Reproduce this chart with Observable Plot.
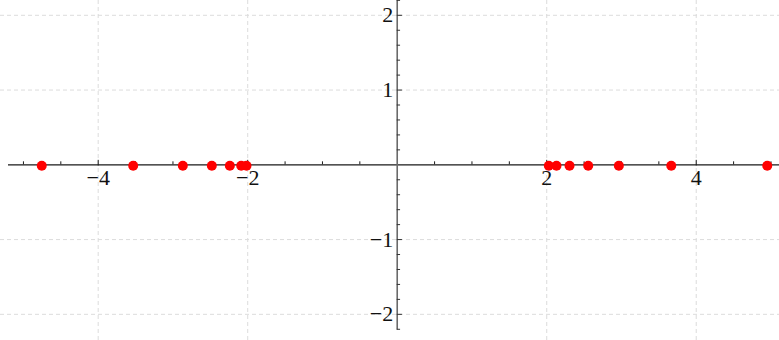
<!DOCTYPE html>
<html>
<head>
<meta charset="utf-8">
<script src="https://cdn.jsdelivr.net/npm/d3@7"></script>
<script src="https://cdn.jsdelivr.net/npm/@observablehq/plot@0.6"></script>
<style>
  html, body { margin: 0; padding: 0; background: #fff; }
  #chart svg { display: block; }
</style>
</head>
<body>
<div id="chart"></div>
<script>
// Point x-values (all on y = 0)
const pointsX = [-4.755, -3.532, -2.868, -2.480, -2.239, -2.087, -2.016,
                 2.028, 2.131, 2.305, 2.555, 2.965, 3.666, 4.950];
const pointsY = [0, 0, 0, 0, 0, 0, 0, 0, 0, 0, 0, 0, 0, 0];

// Axis ticks
const xMajorTicks = [-4, -2, 2, 4];
const xMinorTicks = [-5, -4.5, -3.5, -3, -2.5, -1.5, -1, -0.5, 0.5, 1, 1.5, 2.5, 3, 3.5, 4.5, 5];
const yMajorTicks = [-2, -1, 1, 2];
const yMinorTicks = [-2.2, -1.8, -1.6, -1.4, -1.2, -0.8, -0.6, -0.4, -0.2,
                     0.2, 0.4, 0.6, 0.8, 1.2, 1.4, 1.6, 1.8, 2.2];
const xLabels = ["\u22124", "\u22122", "2", "4"];
const yLabels = ["\u22122", "\u22121", "1", "2"];

const points = pointsX.map((x, i) => ({x, y: pointsY[i]}));

const chart = Plot.plot({
  width: 779,
  height: 340,
  margin: 0,
  x: {domain: [-5.307, 5.114], axis: null},
  y: {domain: [-2.350, 2.198], axis: null},
  marks: [
    // grid
    Plot.ruleX(xMajorTicks, {x: d => d, y1: -2.35, y2: 2.198, stroke: "#dcdcdc", strokeWidth: 1, strokeDasharray: "4,3"}),
    Plot.ruleY(yMajorTicks, {y: d => d, x1: -5.307, x2: 5.114, stroke: "#dcdcdc", strokeWidth: 1, strokeDasharray: "4,3"}),
    // axes lines
    Plot.ruleY([0], {x1: -5.2, x2: 5.114, stroke: "#1a1a1a", strokeWidth: 1.2}),
    Plot.ruleX([0], {y1: -2.21, y2: 2.198, stroke: "#6a6a6a", strokeWidth: 1.6}),
    // x ticks
    Plot.ruleX(xMinorTicks, {x: d => d, y1: 0, y2: 0.04, stroke: "#1a1a1a", strokeWidth: 1}),
    Plot.ruleX(xMajorTicks, {x: d => d, y1: -0.015, y2: 0.06, stroke: "#1a1a1a", strokeWidth: 1}),
    // y ticks
    Plot.ruleY(yMinorTicks, {y: d => d, x1: 0, x2: 0.045, stroke: "#333", strokeWidth: 1}),
    Plot.ruleY(yMajorTicks, {y: d => d, x1: 0, x2: 0.07, stroke: "#333", strokeWidth: 1}),
    // points
    Plot.dot(points, {x: "x", y: "y", dy: 1, r: 5, fill: "#ff0000", stroke: "none"}),
    // labels
    Plot.text(xMajorTicks, {x: d => d, y: 0, text: (d, i) => xLabels[i], lineAnchor: "top", dy: 5,
      fontSize: 22, fontFamily: "Liberation Serif", fill: "#111", textAnchor: "middle"}),
    Plot.text(yMajorTicks, {x: 0, y: d => d, text: (d, i) => yLabels[i], lineAnchor: "middle", dx: -4,
      fontSize: 22, fontFamily: "Liberation Serif", fill: "#111", textAnchor: "end"})
  ]
});
document.getElementById("chart").appendChild(chart);
</script>
</body>
</html>
